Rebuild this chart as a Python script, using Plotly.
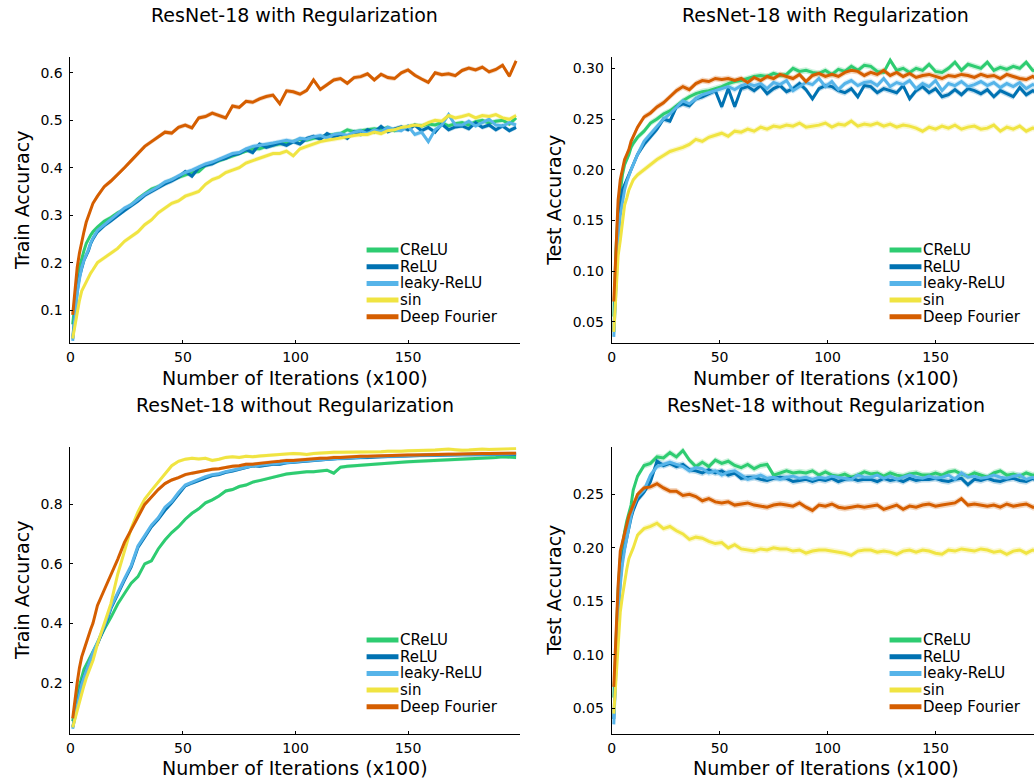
import plotly.graph_objects as go

# ---------------- data ----------------
ITER = [1, 2, 3, 4, 5, 6, 7, 8, 9, 10,
        12, 15, 18, 21, 24, 27, 30, 33, 36,
        39, 42, 45, 48, 51, 54, 57, 60, 63,
        66, 69, 72, 75, 78, 81, 84, 87, 90,
        93, 96, 99, 102, 105, 108, 111, 114, 117,
        120, 123, 126, 129, 132, 135, 138, 141, 144,
        147, 150, 153, 156, 159, 162, 165, 168, 171,
        174, 177, 180, 183, 186, 189, 192, 195, 198]

SERIES = ["CReLU", "ReLU", "leaky-ReLU", "sin", "Deep Fourier"]

# Panel 1: train accuracy, with regularization
p1_crelu = [0.07, 0.12, 0.16, 0.19, 0.21, 0.225, 0.24, 0.25, 0.258, 0.265,
            0.275, 0.287, 0.295, 0.305, 0.312, 0.322, 0.335, 0.345, 0.355,
            0.36, 0.368, 0.375, 0.38, 0.385, 0.39, 0.392, 0.405, 0.41,
            0.415, 0.42, 0.425, 0.43, 0.436, 0.44, 0.44, 0.445, 0.448,
            0.45, 0.452, 0.455, 0.46, 0.458, 0.462, 0.465, 0.468, 0.47,
            0.472, 0.48, 0.476, 0.478, 0.48, 0.482, 0.48, 0.485, 0.478,
            0.482, 0.487, 0.49, 0.488, 0.492, 0.49, 0.495, 0.488, 0.493,
            0.495, 0.49, 0.497, 0.50, 0.494, 0.498, 0.50, 0.492, 0.505]
p1_relu = [0.04, 0.10, 0.14, 0.17, 0.19, 0.205, 0.215, 0.225, 0.24, 0.25,
           0.265, 0.278, 0.288, 0.30, 0.31, 0.32, 0.33, 0.342, 0.35,
           0.358, 0.366, 0.372, 0.38, 0.392, 0.382, 0.40, 0.405, 0.408,
           0.416, 0.42, 0.427, 0.43, 0.438, 0.432, 0.45, 0.443, 0.448,
           0.452, 0.447, 0.455, 0.45, 0.462, 0.466, 0.46, 0.472, 0.465,
           0.47, 0.462, 0.476, 0.47, 0.48, 0.475, 0.487, 0.476, 0.482,
           0.486, 0.48, 0.49, 0.478, 0.485, 0.475, 0.492, 0.48, 0.486,
           0.488, 0.482, 0.495, 0.485, 0.49, 0.48, 0.488, 0.478, 0.485]
p1_leaky = [0.035, 0.09, 0.135, 0.165, 0.19, 0.205, 0.215, 0.228, 0.242, 0.252,
            0.268, 0.28, 0.29, 0.302, 0.315, 0.322, 0.334, 0.344, 0.352,
            0.36, 0.37, 0.375, 0.383, 0.39, 0.395, 0.402, 0.408, 0.412,
            0.418, 0.425, 0.43, 0.432, 0.44, 0.445, 0.447, 0.45, 0.452,
            0.455, 0.458, 0.455, 0.462, 0.46, 0.465, 0.468, 0.463, 0.47,
            0.472, 0.468, 0.475, 0.478, 0.472, 0.48, 0.476, 0.485, 0.48,
            0.478, 0.488, 0.47, 0.475, 0.455, 0.48, 0.49, 0.512, 0.49,
            0.49, 0.498, 0.488, 0.495, 0.502, 0.49, 0.488, 0.495, 0.49]
p1_sin = [0.04, 0.07, 0.10, 0.12, 0.14, 0.15, 0.16, 0.17, 0.178, 0.185,
          0.20, 0.21, 0.22, 0.23, 0.245, 0.255, 0.265, 0.28, 0.29,
          0.305, 0.315, 0.325, 0.33, 0.34, 0.345, 0.35, 0.365, 0.375,
          0.38, 0.39, 0.395, 0.40, 0.41, 0.415, 0.42, 0.425, 0.43,
          0.43, 0.435, 0.425, 0.44, 0.445, 0.45, 0.455, 0.458, 0.46,
          0.462, 0.465, 0.468, 0.47, 0.47, 0.475, 0.472, 0.478, 0.48,
          0.485, 0.487, 0.49, 0.488, 0.495, 0.50, 0.498, 0.51, 0.505,
          0.508, 0.512, 0.505, 0.51, 0.508, 0.512, 0.505, 0.502, 0.51]
p1_fourier = [0.09, 0.15, 0.19, 0.22, 0.245, 0.265, 0.285, 0.30, 0.315, 0.325,
              0.34, 0.36, 0.372, 0.385, 0.40, 0.415, 0.43, 0.445, 0.455,
              0.465, 0.475, 0.473, 0.485, 0.49, 0.484, 0.505, 0.508, 0.515,
              0.51, 0.505, 0.53, 0.527, 0.54, 0.538, 0.545, 0.55, 0.553,
              0.535, 0.562, 0.56, 0.555, 0.563, 0.585, 0.565, 0.575, 0.585,
              0.588, 0.578, 0.59, 0.592, 0.598, 0.585, 0.597, 0.59, 0.588,
              0.60, 0.606, 0.595, 0.587, 0.58, 0.60, 0.596, 0.598, 0.594,
              0.605, 0.61, 0.606, 0.612, 0.602, 0.607, 0.616, 0.593, 0.625]

# Panel 2: test accuracy, with regularization
p2_crelu = [0.055, 0.12, 0.16, 0.18, 0.195, 0.205, 0.21, 0.215, 0.222, 0.226,
            0.232, 0.238, 0.246, 0.25, 0.255, 0.258, 0.263, 0.268, 0.272,
            0.275, 0.277, 0.278, 0.28, 0.282, 0.285, 0.287, 0.288, 0.29,
            0.292, 0.293, 0.292, 0.295, 0.293, 0.294, 0.30, 0.297, 0.298,
            0.296, 0.295, 0.298, 0.294, 0.299, 0.297, 0.302, 0.298, 0.303,
            0.302, 0.297, 0.296, 0.308, 0.298, 0.30, 0.296, 0.30, 0.298,
            0.304, 0.297, 0.296, 0.30, 0.306, 0.298, 0.304, 0.302, 0.30,
            0.306, 0.298, 0.301, 0.299, 0.302, 0.30, 0.306, 0.298, 0.297]
p2_relu = [0.04, 0.10, 0.14, 0.165, 0.18, 0.185, 0.19, 0.195, 0.20, 0.205,
           0.215, 0.225, 0.232, 0.24, 0.25, 0.248, 0.262, 0.265, 0.263,
           0.27, 0.272, 0.275, 0.278, 0.262, 0.28, 0.262, 0.28, 0.282,
           0.278, 0.283, 0.275, 0.28, 0.283, 0.277, 0.28, 0.285, 0.279,
           0.27, 0.28, 0.283, 0.282, 0.278, 0.276, 0.28, 0.272, 0.283,
           0.282, 0.276, 0.28, 0.278, 0.276, 0.283, 0.27, 0.278, 0.282,
           0.276, 0.28, 0.272, 0.274, 0.279, 0.274, 0.28, 0.278, 0.275,
           0.279, 0.272, 0.278, 0.275, 0.272, 0.281, 0.274, 0.278, 0.275]
p2_leaky = [0.035, 0.09, 0.13, 0.155, 0.17, 0.18, 0.188, 0.195, 0.20, 0.205,
            0.215, 0.228, 0.235, 0.242, 0.25, 0.255, 0.262, 0.268, 0.265,
            0.27, 0.274, 0.276, 0.278, 0.28, 0.282, 0.279, 0.283, 0.285,
            0.283, 0.285, 0.28, 0.286, 0.284, 0.288, 0.278, 0.282, 0.286,
            0.284, 0.29, 0.282, 0.287, 0.279, 0.285, 0.288, 0.283, 0.286,
            0.287, 0.283, 0.29, 0.282, 0.286, 0.284, 0.288, 0.28, 0.285,
            0.282, 0.288, 0.278, 0.285, 0.283, 0.287, 0.282, 0.284, 0.287,
            0.283, 0.286, 0.281, 0.285, 0.282, 0.286, 0.28, 0.284, 0.282]
p2_sin = [0.04, 0.08, 0.115, 0.13, 0.15, 0.165, 0.172, 0.18, 0.185, 0.19,
          0.195, 0.20, 0.205, 0.21, 0.214, 0.218, 0.22, 0.222, 0.225,
          0.23, 0.228, 0.232, 0.234, 0.236, 0.233, 0.238, 0.237, 0.24,
          0.238, 0.242, 0.24, 0.243, 0.242, 0.244, 0.243, 0.246, 0.242,
          0.243, 0.244, 0.246, 0.242, 0.245, 0.244, 0.248, 0.243, 0.245,
          0.244, 0.246, 0.243, 0.245, 0.242, 0.244, 0.243, 0.241, 0.238,
          0.242, 0.24, 0.243, 0.241, 0.244, 0.24, 0.242, 0.243, 0.24,
          0.241, 0.244, 0.238, 0.242, 0.24, 0.243, 0.238, 0.241, 0.24]
p2_fourier = [0.07, 0.13, 0.17, 0.19, 0.20, 0.21, 0.215, 0.22, 0.228, 0.233,
              0.242, 0.252, 0.256, 0.262, 0.266, 0.272, 0.278, 0.282, 0.279,
              0.285, 0.288, 0.287, 0.29, 0.289, 0.29, 0.288, 0.29, 0.286,
              0.291, 0.288, 0.292, 0.29, 0.294, 0.292, 0.29, 0.294, 0.287,
              0.293, 0.295, 0.292, 0.294, 0.292, 0.296, 0.298, 0.297, 0.293,
              0.296, 0.294, 0.298, 0.293, 0.296, 0.292, 0.295, 0.291, 0.293,
              0.294, 0.292, 0.29, 0.293, 0.292, 0.294, 0.293, 0.291, 0.294,
              0.292, 0.293, 0.29, 0.294, 0.292, 0.29, 0.289, 0.292, 0.288]

# Panel 3: train accuracy, without regularization
p3_crelu = [0.07, 0.12, 0.16, 0.19, 0.22, 0.245, 0.26, 0.275, 0.29, 0.31,
            0.34, 0.38, 0.42, 0.465, 0.50, 0.535, 0.557, 0.60, 0.61,
            0.65, 0.68, 0.705, 0.725, 0.75, 0.77, 0.785, 0.805, 0.815,
            0.828, 0.845, 0.85, 0.86, 0.865, 0.875, 0.88, 0.886, 0.892,
            0.898, 0.902, 0.905, 0.908, 0.91, 0.91, 0.913, 0.915, 0.905,
            0.925, 0.928, 0.93, 0.932, 0.934, 0.936, 0.938, 0.94, 0.94,
            0.942, 0.943, 0.944, 0.946, 0.947, 0.948, 0.95, 0.951, 0.952,
            0.953, 0.954, 0.955, 0.956, 0.957, 0.958, 0.96, 0.959, 0.958]
p3_relu = [0.05, 0.09, 0.13, 0.165, 0.20, 0.22, 0.24, 0.26, 0.28, 0.30,
           0.33, 0.385, 0.45, 0.50, 0.545, 0.59, 0.655, 0.69, 0.725,
           0.75, 0.78, 0.805, 0.835, 0.862, 0.872, 0.88, 0.89, 0.897,
           0.90, 0.908, 0.912, 0.918, 0.925, 0.93, 0.928, 0.932, 0.935,
           0.935, 0.94, 0.942, 0.944, 0.945, 0.948, 0.95, 0.952, 0.953,
           0.955, 0.955, 0.957, 0.958, 0.958, 0.96, 0.96, 0.961, 0.962,
           0.962, 0.963, 0.964, 0.964, 0.965, 0.965, 0.966, 0.966, 0.967,
           0.967, 0.967, 0.968, 0.968, 0.968, 0.968, 0.969, 0.968, 0.968]
p3_leaky = [0.045, 0.085, 0.125, 0.16, 0.195, 0.218, 0.24, 0.26, 0.282, 0.302,
            0.335, 0.39, 0.455, 0.505, 0.55, 0.595, 0.66, 0.695, 0.73,
            0.755, 0.79, 0.81, 0.84, 0.865, 0.875, 0.885, 0.893, 0.90,
            0.903, 0.91, 0.915, 0.92, 0.926, 0.93, 0.932, 0.935, 0.937,
            0.938, 0.941, 0.943, 0.945, 0.947, 0.949, 0.951, 0.953, 0.954,
            0.955, 0.956, 0.958, 0.959, 0.96, 0.961, 0.961, 0.962, 0.963,
            0.963, 0.964, 0.965, 0.965, 0.966, 0.966, 0.967, 0.967, 0.968,
            0.968, 0.968, 0.969, 0.969, 0.969, 0.97, 0.97, 0.97, 0.97]
p3_sin = [0.05, 0.08, 0.11, 0.14, 0.17, 0.19, 0.215, 0.235, 0.255, 0.275,
          0.33, 0.40, 0.467, 0.565, 0.645, 0.72, 0.775, 0.818, 0.847,
          0.875, 0.905, 0.93, 0.945, 0.952, 0.955, 0.953, 0.955, 0.948,
          0.952, 0.958, 0.96, 0.958, 0.962, 0.96, 0.963, 0.965, 0.966,
          0.968, 0.97, 0.971, 0.97, 0.968, 0.971, 0.973, 0.974, 0.975,
          0.975, 0.975, 0.976, 0.976, 0.977, 0.976, 0.977, 0.979, 0.978,
          0.979, 0.98, 0.98, 0.981, 0.982, 0.983, 0.985, 0.986, 0.984,
          0.982, 0.983, 0.985, 0.986, 0.985, 0.986, 0.988, 0.989, 0.988]
p3_fourier = [0.08, 0.15, 0.20, 0.25, 0.287, 0.31, 0.335, 0.36, 0.38, 0.40,
              0.46, 0.512, 0.562, 0.615, 0.672, 0.715, 0.758, 0.80, 0.825,
              0.85, 0.87, 0.882, 0.89, 0.90, 0.905, 0.91, 0.915, 0.918,
              0.92, 0.925, 0.928, 0.93, 0.935, 0.935, 0.938, 0.942, 0.943,
              0.945, 0.948, 0.948, 0.95, 0.952, 0.953, 0.955, 0.955, 0.958,
              0.958, 0.96, 0.96, 0.962, 0.962, 0.963, 0.963, 0.964, 0.965,
              0.965, 0.966, 0.966, 0.967, 0.968, 0.968, 0.968, 0.969, 0.969,
              0.97, 0.97, 0.971, 0.971, 0.971, 0.972, 0.972, 0.972, 0.972]

# Panel 4: test accuracy, without regularization
p4_crelu = [0.06, 0.11, 0.16, 0.19, 0.205, 0.215, 0.225, 0.232, 0.24, 0.254,
            0.267, 0.277, 0.279, 0.285, 0.284, 0.289, 0.285, 0.291, 0.282,
            0.276, 0.28, 0.276, 0.282, 0.279, 0.281, 0.277, 0.275, 0.278,
            0.274, 0.277, 0.278, 0.268, 0.27, 0.272, 0.27, 0.271, 0.27,
            0.272, 0.268, 0.271, 0.268, 0.267, 0.269, 0.266, 0.268, 0.271,
            0.269, 0.27, 0.267, 0.27, 0.268, 0.267, 0.269, 0.27, 0.268,
            0.268, 0.27, 0.268, 0.271, 0.272, 0.269, 0.267, 0.27, 0.268,
            0.266, 0.27, 0.272, 0.268, 0.269, 0.267, 0.27, 0.268, 0.269]
p4_relu = [0.04, 0.09, 0.14, 0.17, 0.19, 0.20, 0.21, 0.22, 0.228, 0.235,
           0.245, 0.252, 0.262, 0.281, 0.277, 0.279, 0.276, 0.278, 0.273,
           0.272, 0.27, 0.273, 0.27, 0.272, 0.268, 0.27, 0.265, 0.266,
           0.266, 0.264, 0.263, 0.265, 0.266, 0.265, 0.262, 0.263, 0.264,
           0.262, 0.264, 0.263, 0.265, 0.262, 0.264, 0.265, 0.263, 0.264,
           0.264, 0.262, 0.265, 0.263, 0.264, 0.262, 0.265, 0.263, 0.264,
           0.264, 0.265, 0.263, 0.262, 0.264, 0.265, 0.259, 0.264, 0.263,
           0.265, 0.263, 0.262, 0.264, 0.265, 0.263, 0.262, 0.265, 0.262]
p4_leaky = [0.035, 0.085, 0.135, 0.165, 0.185, 0.198, 0.21, 0.22, 0.23, 0.238,
            0.248, 0.254, 0.268, 0.276, 0.278, 0.28, 0.278, 0.276, 0.272,
            0.275, 0.274, 0.27, 0.272, 0.268, 0.271, 0.272, 0.268, 0.264,
            0.266, 0.268, 0.265, 0.266, 0.264, 0.266, 0.267, 0.265, 0.266,
            0.264, 0.266, 0.265, 0.267, 0.266, 0.265, 0.264, 0.268, 0.266,
            0.266, 0.268, 0.265, 0.267, 0.264, 0.266, 0.268, 0.266, 0.265,
            0.267, 0.265, 0.266, 0.268, 0.264, 0.27, 0.266, 0.267, 0.265,
            0.266, 0.268, 0.266, 0.265, 0.267, 0.268, 0.264, 0.266, 0.263]
p4_sin = [0.045, 0.08, 0.11, 0.14, 0.155, 0.17, 0.18, 0.19, 0.195, 0.20,
          0.212, 0.218, 0.22, 0.223, 0.218, 0.22, 0.216, 0.213, 0.208,
          0.21, 0.209, 0.206, 0.204, 0.205, 0.20, 0.203, 0.199, 0.198,
          0.197, 0.199, 0.198, 0.20, 0.199, 0.199, 0.197, 0.198, 0.195,
          0.197, 0.198, 0.198, 0.197, 0.196, 0.195, 0.193, 0.197, 0.198,
          0.198, 0.196, 0.197, 0.196, 0.194, 0.197, 0.198, 0.196, 0.198,
          0.197, 0.195, 0.194, 0.198, 0.197, 0.199, 0.198, 0.197, 0.199,
          0.198, 0.196, 0.197, 0.194, 0.197, 0.198, 0.195, 0.198, 0.197]
p4_fourier = [0.07, 0.12, 0.165, 0.197, 0.205, 0.215, 0.222, 0.23, 0.235, 0.24,
              0.25, 0.256, 0.257, 0.26, 0.256, 0.253, 0.253, 0.249, 0.25,
              0.248, 0.244, 0.246, 0.243, 0.242, 0.243, 0.24, 0.241, 0.242,
              0.24, 0.239, 0.238, 0.24, 0.241, 0.24, 0.239, 0.242, 0.238,
              0.235, 0.24, 0.239, 0.241, 0.238, 0.237, 0.238, 0.239, 0.238,
              0.239, 0.24, 0.236, 0.238, 0.24, 0.236, 0.239, 0.238, 0.24,
              0.241, 0.239, 0.24, 0.241, 0.242, 0.246, 0.24, 0.241, 0.24,
              0.239, 0.24, 0.238, 0.241, 0.239, 0.24, 0.241, 0.238, 0.238]

PANELS = [
    [p1_crelu, p1_relu, p1_leaky, p1_sin, p1_fourier],
    [p2_crelu, p2_relu, p2_leaky, p2_sin, p2_fourier],
    [p3_crelu, p3_relu, p3_leaky, p3_sin, p3_fourier],
    [p4_crelu, p4_relu, p4_leaky, p4_sin, p4_fourier],
]
TITLES = ["ResNet-18 with Regularization", "ResNet-18 with Regularization",
          "ResNet-18 without Regularization", "ResNet-18 without Regularization"]
YLABELS = ["Train Accuracy", "Test Accuracy", "Train Accuracy", "Test Accuracy"]
XLABEL = "Number of Iterations (x100)"
X_TICKS = [0, 50, 100, 150]
Y_TICKS = [[0.1, 0.2, 0.3, 0.4, 0.5, 0.6],
           [0.05, 0.10, 0.15, 0.20, 0.25, 0.30],
           [0.2, 0.4, 0.6, 0.8],
           [0.05, 0.10, 0.15, 0.20, 0.25]]

# ---------------- style ----------------
COLORS = ["#2ecc71", "#0072b2", "#56b4e9", "#f0e442", "#d55e00"]
FILLS = ["rgba(46,204,113,0.25)", "rgba(0,114,178,0.25)", "rgba(86,180,233,0.25)",
         "rgba(240,228,66,0.25)", "rgba(213,94,0,0.25)"]
BAND = [0.005, 0.003, 0.006, 0.003]
FONT = "DejaVu Sans"
W, H = 1034, 783

XDOM = [[66.7 / W, 517.7 / W], [610 / W, 1.0], [66.7 / W, 517.7 / W], [610 / W, 1.0]]
YDOM = [[1 - 343.3 / H, 1 - 56.7 / H], [1 - 343.3 / H, 1 - 56.7 / H],
        [1 - 734 / H, 1 - 447.3 / H], [1 - 734 / H, 1 - 447.3 / H]]
XRANGE = [[0, 199.6], [0, 195.6], [0, 199.6], [0, 195.6]]
YRANGE = [[0.030, 0.634], [0.0287, 0.3115], [0.0275, 0.992], [0.026, 0.294]]
YFMT = [".1f", ".2f", ".1f", ".2f"]
TITLE_POS = [(292, 15), (825, 15), (292, 405), (825, 405)]
XLAB_POS = [(292, 378), (825, 378), (292, 768), (825, 768)]
YLAB_POS = [(18, 200), (552, 200), (18, 590), (552, 590)]
# legend: (line start x, line end x, text x, first row y)
LEG_POS = [(364, 396, 398, 250), (889, 921, 923, 250),
           (364, 396, 398, 640), (889, 921, 923, 640)]
LEG_STEP = 16.7

fig = go.Figure()
layout = dict(width=W, height=H, margin=dict(l=0, r=0, t=0, b=0),
              paper_bgcolor="white", plot_bgcolor="white",
              font=dict(family=FONT, color="black"), showlegend=False,
              annotations=[], shapes=[])

for i in range(4):
    sfx = "" if i == 0 else str(i + 1)
    xa, ya = "x" + sfx, "y" + sfx
    for k, name in enumerate(SERIES):
        vals = PANELS[i][k]
        up = [v + BAND[i] for v in vals]
        lo = [v - BAND[i] for v in vals]
        fig.add_trace(go.Scatter(x=ITER + ITER[::-1], y=up + lo[::-1], fill="toself",
                                 fillcolor=FILLS[k], line=dict(width=0), mode="lines",
                                 hoverinfo="skip", showlegend=False, xaxis=xa, yaxis=ya))
    for k, name in enumerate(SERIES):
        fig.add_trace(go.Scatter(x=ITER, y=PANELS[i][k], mode="lines", name=name,
                                 line=dict(color=COLORS[k], width=3),
                                 xaxis=xa, yaxis=ya))
    axcommon = dict(showgrid=False, zeroline=False, showline=True, linecolor="black",
                    linewidth=1, ticks="inside", ticklen=3, tickcolor="black",
                    tickfont=dict(family=FONT, size=14, color="black"))
    layout["xaxis" + sfx] = dict(domain=XDOM[i], range=XRANGE[i], tickvals=X_TICKS,
                                 anchor=ya, ticklabelstandoff=1, **axcommon)
    layout["yaxis" + sfx] = dict(domain=YDOM[i], range=YRANGE[i], tickvals=Y_TICKS[i],
                                 tickformat=YFMT[i], anchor=xa, ticklabelstandoff=4,
                                 **axcommon)
    tx, ty = TITLE_POS[i]
    layout["annotations"].append(dict(text=TITLES[i], x=tx / W, y=1 - ty / H, xref="paper",
                                      yref="paper", showarrow=False, xanchor="center",
                                      yanchor="middle", font=dict(family=FONT, size=19)))
    bx, by = XLAB_POS[i]
    layout["annotations"].append(dict(text=XLABEL, x=bx / W, y=1 - by / H, xref="paper",
                                      yref="paper", showarrow=False, xanchor="center",
                                      yanchor="middle", font=dict(family=FONT, size=19)))
    yx, yy = YLAB_POS[i]
    layout["annotations"].append(dict(text=YLABELS[i], x=yx / W, y=1 - yy / H, xref="paper",
                                      yref="paper", showarrow=False, xanchor="center",
                                      yanchor="middle", textangle=-90,
                                      font=dict(family=FONT, size=19)))
    # legend (line swatch + label per series)
    lx0, lx1, ltx, ly0 = LEG_POS[i]
    for k, name in enumerate(SERIES):
        yrow = ly0 + k * LEG_STEP
        layout["shapes"].append(dict(type="line", xref="paper", yref="paper",
                                     x0=lx0 / W, x1=lx1 / W, y0=1 - yrow / H, y1=1 - yrow / H,
                                     line=dict(color=COLORS[k], width=5)))
        layout["annotations"].append(dict(text=name, x=ltx / W, y=1 - yrow / H, xref="paper",
                                          yref="paper", showarrow=False, xanchor="left",
                                          yanchor="middle", xshift=-2,
                                          font=dict(family=FONT, size=15)))

fig.update_layout(**layout)
fig.write_html("out.html")
